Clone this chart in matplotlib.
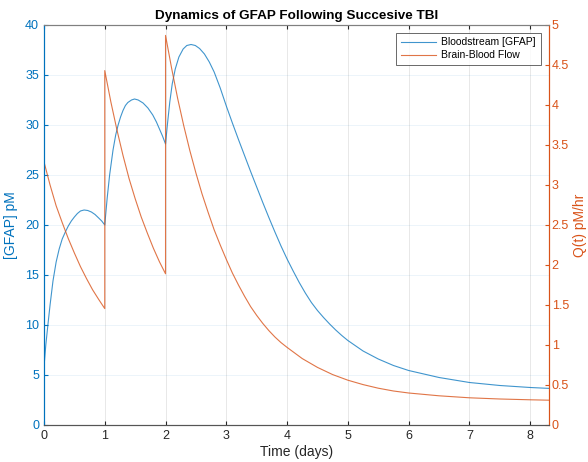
import matplotlib.pyplot as plt

plt.rcParams['font.family'] = ['Liberation Sans', 'DejaVu Sans']

# blood GFAP concentration (left axis, pM)
t_gfap = [0.00, 0.03, 0.066, 0.10, 0.148, 0.20, 0.25, 0.30, 0.355, 0.40, 0.45,
          0.50, 0.55, 0.60, 0.66, 0.72, 0.78, 0.84, 0.90, 0.95, 1.00,
          1.04, 1.08, 1.136, 1.18, 1.22, 1.26, 1.30, 1.34, 1.38, 1.44, 1.49,
          1.55, 1.63, 1.71, 1.79, 1.85, 1.90, 1.95, 2.00,
          2.03, 2.07, 2.11, 2.16, 2.22, 2.29, 2.35, 2.42, 2.49, 2.56, 2.64,
          2.72, 2.80, 2.90, 3.00, 3.10, 3.20, 3.30, 3.40, 3.50, 3.60, 3.70,
          3.80, 3.90, 4.00, 4.10, 4.20, 4.30, 4.40, 4.50, 4.60, 4.70, 4.80,
          4.90, 5.00, 5.25, 5.50, 5.75, 6.00, 6.50, 7.00, 7.50, 8.00, 8.31]
gfap = [5.8, 8.0, 10.1, 12.0, 14.4, 16.3, 17.6, 18.6, 19.35, 19.9, 20.4,
        20.8, 21.15, 21.4, 21.5, 21.45, 21.3, 21.05, 20.7, 20.4, 20.0,
        22.7, 25.0, 27.5, 29.0, 30.0, 30.8, 31.45, 31.95, 32.25, 32.5, 32.6,
        32.5, 32.2, 31.7, 31.0, 30.3, 29.6, 28.9, 28.1,
        30.0, 32.3, 34.1, 35.6, 36.8, 37.6, 37.95, 38.05, 37.95, 37.65, 37.1,
        36.3, 35.3, 33.7, 31.9, 30.2, 28.55, 26.95, 25.35, 23.8, 22.25, 20.75,
        19.3, 17.9, 16.6, 15.4, 14.25, 13.2, 12.25, 11.45, 10.75, 10.1, 9.5,
        8.95, 8.45, 7.4, 6.6, 5.95, 5.45, 4.75, 4.25, 3.95, 3.75, 3.66]

# brain-blood flow Q(t) (right axis, pM/hr)
t_flow = [0.0, 0.1, 0.2, 0.3, 0.4, 0.5, 0.6, 0.7, 0.8, 0.9, 1.0,
          1.0, 1.1, 1.2, 1.3, 1.4, 1.5, 1.6, 1.7, 1.8, 1.9, 2.0,
          2.0, 2.1, 2.2, 2.3, 2.4, 2.5, 2.6, 2.7, 2.8, 2.9, 3.0, 3.1, 3.2, 3.3,
          3.4, 3.5, 3.6, 3.7, 3.8, 3.9, 4.0, 4.25, 4.5, 4.75, 5.0, 5.25, 5.5,
          5.75, 6.0, 6.5, 7.0, 7.5, 8.0, 8.31]
flow = [3.29, 3.0, 2.74, 2.53, 2.33, 2.15, 1.98, 1.83, 1.69, 1.57, 1.455,
        4.43, 4.04, 3.69, 3.37, 3.08, 2.83, 2.60, 2.40, 2.21, 2.04, 1.89,
        4.87, 4.46, 4.08, 3.74, 3.43, 3.15, 2.89, 2.66, 2.44, 2.25, 2.07, 1.90, 1.75, 1.61,
        1.48, 1.37, 1.27, 1.18, 1.10, 1.03, 0.97, 0.83, 0.72, 0.63, 0.56, 0.505, 0.46,
        0.425, 0.40, 0.365, 0.34, 0.325, 0.315, 0.31]

blue = '#0072BD'
orange = '#D95319'

fig = plt.figure(figsize=(5.88, 4.62), dpi=100)
ax = fig.add_axes([0.0748, 0.0801, 0.8589, 0.8658])
ax2 = ax.twinx()

l1, = ax.plot(t_gfap, gfap, color=blue, lw=0.8, alpha=0.75, label='Bloodstream [GFAP]')
l2, = ax2.plot(t_flow, flow, color=orange, lw=0.8, alpha=0.8, label='Brain-Blood Flow')

ax.set_xlim(0, 8.31)
ax.set_ylim(0, 40)
ax2.set_ylim(0, 5)
ax.set_xticks(range(0, 9))
ax.set_yticks(range(0, 41, 5))
ax2.set_yticks([0, 0.5, 1, 1.5, 2, 2.5, 3, 3.5, 4, 4.5, 5])
ax2.set_yticklabels(['0', '0.5', '1', '1.5', '2', '2.5', '3', '3.5', '4', '4.5', '5'])

# grid like matlab: vertical grey, horizontal tinted by left axis
ax.xaxis.grid(True, color='#262626', alpha=0.12, lw=0.6)
ax.yaxis.grid(True, color=blue, alpha=0.09, lw=0.6)
ax.set_axisbelow(True)

ax.tick_params(axis='x', direction='in', top=True, length=3, colors='#262626', labelsize=9)
ax.tick_params(axis='y', direction='in', length=3, colors=blue, labelsize=9)
ax2.tick_params(axis='y', direction='in', length=3, colors=orange, labelsize=9, pad=2)

for a in (ax, ax2):
    a.spines['top'].set_color('#808080')
    a.spines['bottom'].set_color('#555555')
    a.spines['left'].set_color(blue)
    a.spines['right'].set_color(orange)
    for s in a.spines.values():
        s.set_linewidth(0.8)

ax.set_xlabel('Time (days)', fontsize=10, color='#262626', labelpad=2)
ax.set_ylabel('[GFAP] pM', fontsize=10, color=blue, labelpad=5)
ax2.set_ylabel('Q(t) pM/hr', fontsize=10, color=orange, labelpad=3)
ax.set_title('Dynamics of GFAP Following Succesive TBI', fontsize=9.7, fontweight='bold', pad=4)

leg = ax2.legend(handles=[l1, l2], loc='upper right', bbox_to_anchor=(0.994, 0.994),
                 fontsize=7.5, frameon=True, fancybox=False, handlelength=3.4,
                 borderpad=0.45, labelspacing=0.3, handletextpad=0.5)
leg.get_frame().set_edgecolor('#262626')
leg.get_frame().set_linewidth(0.6)

fig.savefig('out.png', dpi=100)
